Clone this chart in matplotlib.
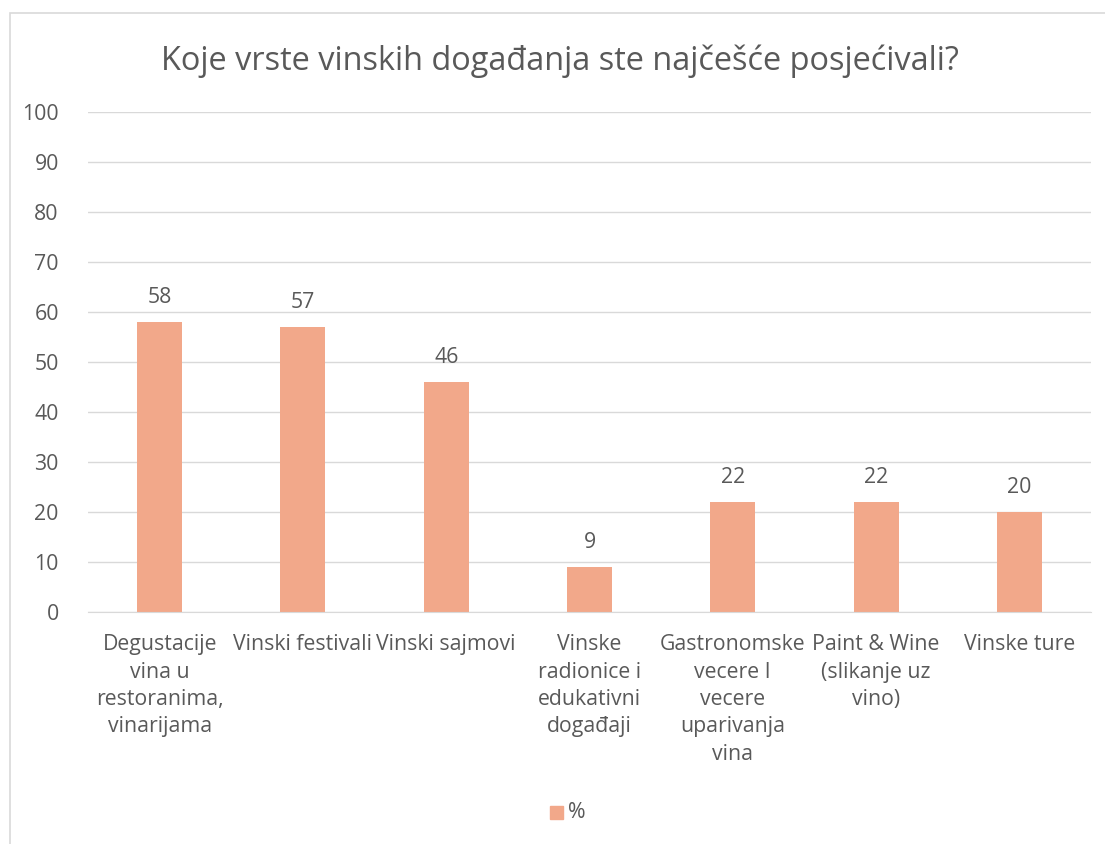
import numpy as np
import matplotlib.pyplot as plt
from matplotlib.patches import Rectangle

categories = ['Degustacije\nvina u\nrestoranima,\nvinarijama',
              'Vinski festivali',
              'Vinski sajmovi',
              'Vinske\nradionice i\nedukativni\ndogađaji',
              'Gastronomske\nvecere I\nvecere\nuparivanja\nvina',
              'Paint & Wine\n(slikanje uz\nvino)',
              'Vinske ture']
values = [58, 57, 46, 9, 22, 22, 20]
yticks = [0, 10, 20, 30, 40, 50, 60, 70, 80, 90, 100]

plt.rcParams['font.family'] = ['Open Sans', 'DejaVu Sans']
txt = '#595959'
bar_color = '#F2A88A'
fs = 15.3

fig = plt.figure(figsize=(11.05, 8.44), dpi=100)
ax = fig.add_axes([88/1105, 1 - 612/844, 1003/1105, 500/844])

# chart frame
fig.patches.append(Rectangle((10/1105, -0.1), 1.2, (1 - 13/844) + 0.1,
                             transform=fig.transFigure, fill=False,
                             edgecolor='#d9d9d9', linewidth=1.2))

x = np.arange(len(categories))
ax.bar(x, values, width=0.315, color=bar_color, zorder=2)
for xi, v in zip(x, values):
    ax.text(xi, v + 2.8, str(v), ha='center', va='bottom', fontsize=fs, color=txt)

ax.set_xlim(-0.5, len(categories) - 0.5)
ax.set_ylim(0, 100)
ax.set_yticks(yticks)
ax.set_xticks(x)
ax.set_xticklabels(categories, fontsize=fs, color=txt, linespacing=1.4, va='top')
ax.tick_params(axis='y', labelsize=fs, labelcolor=txt, length=0, pad=21)
ax.tick_params(axis='x', length=0, pad=16)
ax.grid(axis='y', color='#d9d9d9', linewidth=1, zorder=0)
for s in ['top', 'right', 'left']:
    ax.spines[s].set_visible(False)
ax.spines['bottom'].set_color('#d9d9d9')

fig.text(0.507, 1 - 61/844, 'Koje vrste vinskih događanja ste najčešće posjećivali?',
         ha='center', va='center', fontsize=23.4, color=txt)

fig.patches.append(Rectangle((550/1105, 1 - 819/844), 13/1105, 13/844,
                             transform=fig.transFigure, color=bar_color))
fig.text(568/1105, 1 - 812/844, '%', ha='left', va='center', fontsize=fs, color=txt)

fig.savefig('out.png', dpi=100)
